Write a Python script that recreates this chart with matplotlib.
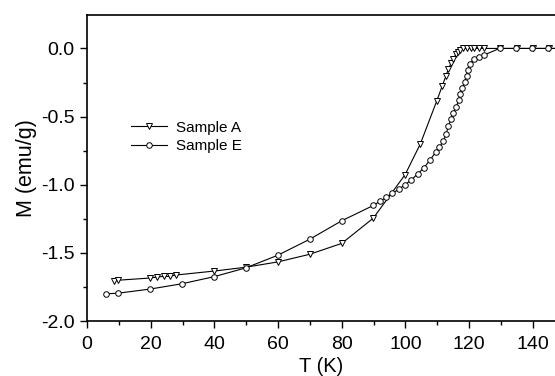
import matplotlib
matplotlib.use("Agg")
import matplotlib.pyplot as plt
from matplotlib.ticker import MultipleLocator

plt.rcParams['font.family'] = ['Liberation Sans', 'DejaVu Sans']

# Sample A (down triangles)
t_a = [8.3, 9.8, 19.8, 21.9, 24.0, 25.9, 27.9, 39.9, 49.8, 59.9, 69.9, 80.0,
       89.9, 99.9, 104.7, 109.8, 111.6, 112.7, 113.5, 114.4, 115.0, 115.9,
       116.5, 117.3, 118.1, 119.2, 120.5, 121.7, 123.0, 124.8, 129.6, 135.0,
       140.0, 145.0, 150.0]
m_a = [-1.706, -1.700, -1.684, -1.677, -1.672, -1.672, -1.662, -1.633, -1.605,
       -1.566, -1.510, -1.430, -1.245, -0.926, -0.700, -0.388, -0.273, -0.204,
       -0.150, -0.106, -0.074, -0.044, -0.025, -0.012, 0.0, 0.0, 0.0, 0.0,
       0.0, 0.0, 0.0, 0.0, 0.0, 0.0, 0.0]

# Sample E (open circles)
t_e = [5.9, 9.8, 19.8, 29.8, 39.9, 49.8, 59.9, 69.9, 80.0, 89.9, 92.0, 93.9,
       95.8, 97.9, 99.8, 101.9, 103.8, 105.8, 107.7, 109.6, 110.7, 111.9,
       112.8, 113.5, 114.4, 115.0, 116.0, 116.7, 117.3, 117.9, 118.6, 119.2,
       119.6, 120.2, 121.5, 123.0, 124.8, 129.6, 134.7, 139.9, 144.9, 150.0]
m_e = [-1.800, -1.795, -1.765, -1.726, -1.674, -1.610, -1.517, -1.400, -1.264,
       -1.152, -1.122, -1.093, -1.063, -1.034, -1.000, -0.965, -0.920, -0.876,
       -0.820, -0.758, -0.725, -0.677, -0.630, -0.567, -0.518, -0.474, -0.430,
       -0.380, -0.336, -0.287, -0.243, -0.199, -0.155, -0.116, -0.077, -0.062,
       -0.047, 0.0, 0.0, 0.0, 0.0, 0.0]

fig = plt.figure(figsize=(5.55, 3.76), dpi=100)
ax = fig.add_axes([0.157, 0.146, 0.843, 0.814])

ax.plot(t_a, m_a, color='black', lw=0.8, marker='v', markersize=4.5,
        markerfacecolor='white', markeredgecolor='black', markeredgewidth=0.7,
        label='Sample A')
ax.plot(t_e, m_e, color='black', lw=0.8, marker='o', markersize=4,
        markerfacecolor='white', markeredgecolor='black', markeredgewidth=0.7,
        label='Sample E')

ax.set_xlim(0, 147)
ax.set_ylim(-2.0, 0.245)
ax.xaxis.set_major_locator(MultipleLocator(20))
ax.xaxis.set_minor_locator(MultipleLocator(10))
ax.yaxis.set_major_locator(MultipleLocator(0.5))
ax.yaxis.set_minor_locator(MultipleLocator(0.25))
ax.yaxis.set_major_formatter(lambda v, p: f"{v:.1f}")

ax.tick_params(which='both', direction='out', width=1, labelsize=14, top=False, right=False)
ax.tick_params(which='major', length=5)
ax.tick_params(which='minor', length=3)
ax.tick_params(axis='x', which='major', pad=5.5)
ax.tick_params(axis='y', which='major', pad=4)
for s in ['left', 'bottom', 'top']:
    ax.spines[s].set_linewidth(1.2)
ax.spines['right'].set_visible(False)

ax.set_xlabel('T (K)', fontsize=14.5, labelpad=3)
ax.set_ylabel('M (emu/g)', fontsize=15.5, labelpad=3)

ax.legend(loc='upper left', bbox_to_anchor=(0.065, 0.70), frameon=False,
          fontsize=11, handlelength=2.35, handletextpad=0.6, labelspacing=0.3)

fig.savefig('out.png', dpi=100)
